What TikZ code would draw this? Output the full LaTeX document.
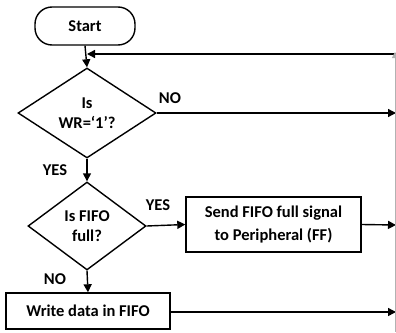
\documentclass[tikz,border=0pt]{standalone}
\usepackage{fontspec}
\setmainfont{Carlito}
\usepackage{tikz}
\usetikzlibrary{positioning,shapes.geometric,arrows.meta}
\tikzset{
    startnode/.style={rectangle, rounded corners=17pt, draw, line width=1.4pt, minimum width=100pt, minimum height=38pt, font=\bfseries\fontsize{16.5}{20}\selectfont},
    decision/.style={diamond, draw, line width=1.4pt, inner sep=0pt, align=center, font=\bfseries\fontsize{16.5}{20}\selectfont},
    process/.style={rectangle, draw, line width=1.4pt, align=center, inner sep=0pt, font=\bfseries\fontsize{16.5}{23}\selectfont},
    answer/.style={font=\bfseries\fontsize{16.5}{20}\selectfont},
    flow/.style={draw, line width=1.4pt, -{Triangle[length=8pt,width=8pt]}}
}

\begin{document}
\begin{tikzpicture}[x=1pt,y=-1pt]
    \useasboundingbox (0,0) rectangle (396,332);
    % Start
    \node[startnode] (start) at (85,26) {Start};
    % Is WR='1'?
    \node[decision, minimum width=138pt, minimum height=90pt] (wr) at (87,113) {Is\\WR=‘1’?};
    % Is FIFO full?
    \node[decision, minimum width=118pt, minimum height=88pt] (full) at (87,226) {Is FIFO\\full?};
    % Send FF signal
    \node[process, minimum width=175pt, minimum height=55pt] (send) at (273.5,224.5) {Send FIFO full signal\\to Peripheral (FF)};
    % Write data
    \node[process, minimum width=164pt, minimum height=36pt] (write) at (88,311) {Write data in FIFO};

    % loop back points
    \coordinate (back) at (87,54);
    \coordinate (rtop) at (396,54);
    \coordinate (rbot) at (395,332);
    \coordinate (wrout) at (396,113);
    \coordinate (sendout) at (396,225);
    \coordinate (writeout) at (396,312);

    \draw[flow] (start.south) -- (wr.north);
    \draw[flow] (rtop) -- (back);
    \draw[flow] (wr.east) -- (wrout);
    \draw[flow] (wr.south) -- (full.north);
    \draw[flow] (full.east) -- (send.west);
    \draw[flow] (send.east) -- (sendout);
    \draw[flow] (full.south) -- (write.north);
    \draw[flow] (write.east |- writeout) -- (writeout);
    \draw[gray!60, line width=0.5pt, -{Triangle[length=6pt,width=6pt]}] (rbot) -- ([yshift=2pt]rbot |- rtop);

    % answers
    \node[answer] (wrno) at (170,98) {NO};
    \node[answer] (wryes) at (55,170) {YES};
    \node[answer] (fullyes) at (158,205) {YES};
    \node[answer] (fullno) at (55,279) {NO};
\end{tikzpicture}
\end{document}
